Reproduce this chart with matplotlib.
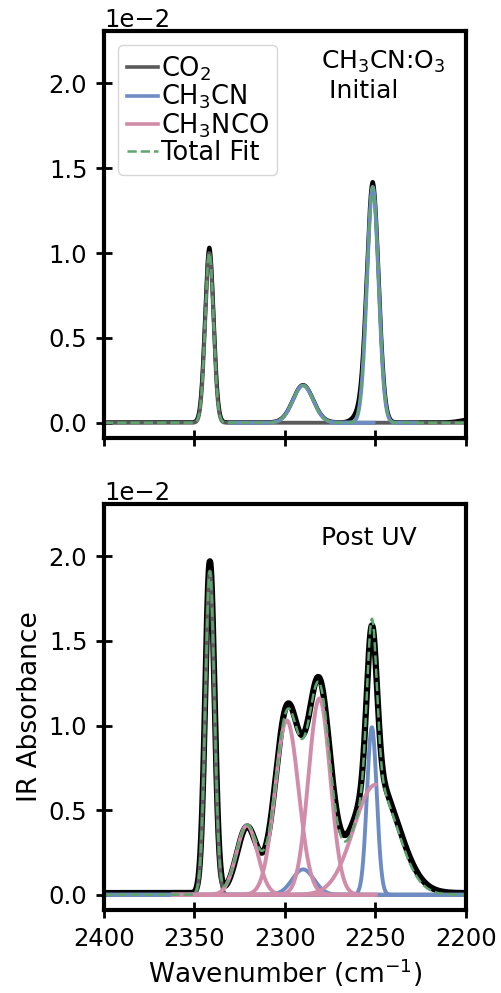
import numpy as np
import matplotlib
matplotlib.use("Agg")
import matplotlib.pyplot as plt
from matplotlib.lines import Line2D

# Gaussian band parameters: centre (cm-1), amplitude (absorbance), sigma (cm-1), plotted range
# --- CH3CN:O3 initial ---
init_co2 = dict(center=[2341.8], amp=[0.0100], sigma=[2.3], span=[(2400, 2200)])
init_ch3cn = dict(center=[2290.0, 2251.5], amp=[0.0022, 0.0139], sigma=[5.6, 3.2],
                  span=[(2331, 2250), (2275, 2226)])
init_obs = dict(center=[2341.8, 2290.0, 2251.5, 2258.5, 2196.0],
                amp=[0.0103, 0.0022, 0.0141, 0.0005, 0.0002],
                sigma=[2.4, 5.6, 3.3, 3.5, 6.0], base=0.00003)

# --- post UV ---
uv_co2 = dict(center=[2341.5], amp=[0.0191], sigma=[2.5], span=[(2400, 2200)])
uv_ch3cn = dict(center=[2290.0, 2252.0], amp=[0.0015, 0.0099], sigma=[6.0, 2.7],
                span=[(2400, 2200), (2400, 2200)])
uv_ch3nco = dict(center=[2321.0, 2299.0, 2281.0, 2250.0], amp=[0.0041, 0.0103, 0.0116, 0.0065],
                 sigma=[5.8, 6.5, 6.0, 12.0],
                 span=[(2363, 2249), (2363, 2249), (2363, 2249), (2363, 2249)])
uv_obs = dict(center=[2341.5, 2321.0, 2299.0, 2290.0, 2281.0, 2252.0, 2250.0],
              amp=[0.0196, 0.0039, 0.0105, 0.0015, 0.0117, 0.0092, 0.0067],
              sigma=[2.55, 5.5, 6.5, 6.0, 6.0, 2.8, 12.5], base=0.0001)

c_co2 = "#5a5a5a"
c_ch3cn = "#6d8cc4"
c_ch3nco = "#d18ca9"
c_fit = "#5ea56e"

plt.rcParams.update({
    "font.size": 17.5,
    "axes.linewidth": 3,
    "xtick.direction": "inout",
    "ytick.direction": "inout",
    "xtick.major.width": 2,
    "ytick.major.width": 2,
    "xtick.major.size": 12,
    "ytick.major.size": 12,
    "xtick.major.pad": 6,
    "ytick.major.pad": 6,
})

wn = np.linspace(2400, 2200, 1601)


def gauss(x, c, a, s):
    return a * np.exp(-(x - c) ** 2 / (2 * s ** 2))


def band_sum(x, bands):
    y = np.zeros_like(x)
    for c, a, s in zip(bands["center"], bands["amp"], bands["sigma"]):
        y += gauss(x, c, a, s)
    return y + bands.get("base", 0.0)


def draw_components(ax, bands, color):
    for c, a, s, (hi, lo) in zip(bands["center"], bands["amp"], bands["sigma"], bands["span"]):
        m = (wn <= hi) & (wn >= lo)
        ax.plot(wn[m], gauss(wn[m], c, a, s), color=color, lw=2.8, solid_capstyle="butt")


def panel(ax, obs, groups, data_lw):
    ax.plot(wn, band_sum(wn, obs), color="black", lw=data_lw)
    total = np.zeros_like(wn)
    for bands, color in groups:
        draw_components(ax, bands, color)
        total += band_sum(wn, bands)
    ax.plot(wn, total, color=c_fit, lw=1.8, ls="--")
    ax.set_xlim(2400, 2200)
    ax.set_ylim(-0.0009, 0.0231)
    ax.set_yticks([0, 0.005, 0.01, 0.015, 0.02])
    ax.set_xticks([2400, 2350, 2300, 2250, 2200])
    ax.ticklabel_format(axis="y", style="sci", scilimits=(0, 0))


fig = plt.figure(figsize=(5.02, 9.93), dpi=100)
ax1 = fig.add_axes([0.2072, 0.5589, 0.721, 0.410])
ax2 = fig.add_axes([0.2072, 0.0836, 0.721, 0.409])

panel(ax1, init_obs, [(init_co2, c_co2), (init_ch3cn, c_ch3cn)], data_lw=2.8)
panel(ax2, uv_obs, [(uv_co2, c_co2), (uv_ch3cn, c_ch3cn), (uv_ch3nco, c_ch3nco)], data_lw=4.5)

ax1.tick_params(labelbottom=False)

ax1.text(0.60, 0.955, "CH$_3$CN:O$_3$\n Initial", transform=ax1.transAxes,
         ha="left", va="top", fontsize=18)
ax2.text(0.60, 0.945, "Post UV", transform=ax2.transAxes,
         ha="left", va="top", fontsize=18)

handles = [
    Line2D([], [], color=c_co2, lw=2.6),
    Line2D([], [], color=c_ch3cn, lw=2.6),
    Line2D([], [], color=c_ch3nco, lw=2.6),
    Line2D([], [], color=c_fit, lw=1.8, ls="--"),
]
labels = ["CO$_2$", "CH$_3$CN", "CH$_3$NCO", "Total Fit"]
ax1.legend(handles, labels, loc="upper left", fontsize=18.5, handlelength=1.2,
           handletextpad=0.1, labelspacing=0.0, borderpad=0.35, borderaxespad=0.55)

ax2.set_xlabel("Wavenumber (cm$^{-1}$)", fontsize=19)
ax2.set_ylabel("IR Absorbance", fontsize=19)

fig.savefig("out.png", dpi=100)
plt.close(fig)
